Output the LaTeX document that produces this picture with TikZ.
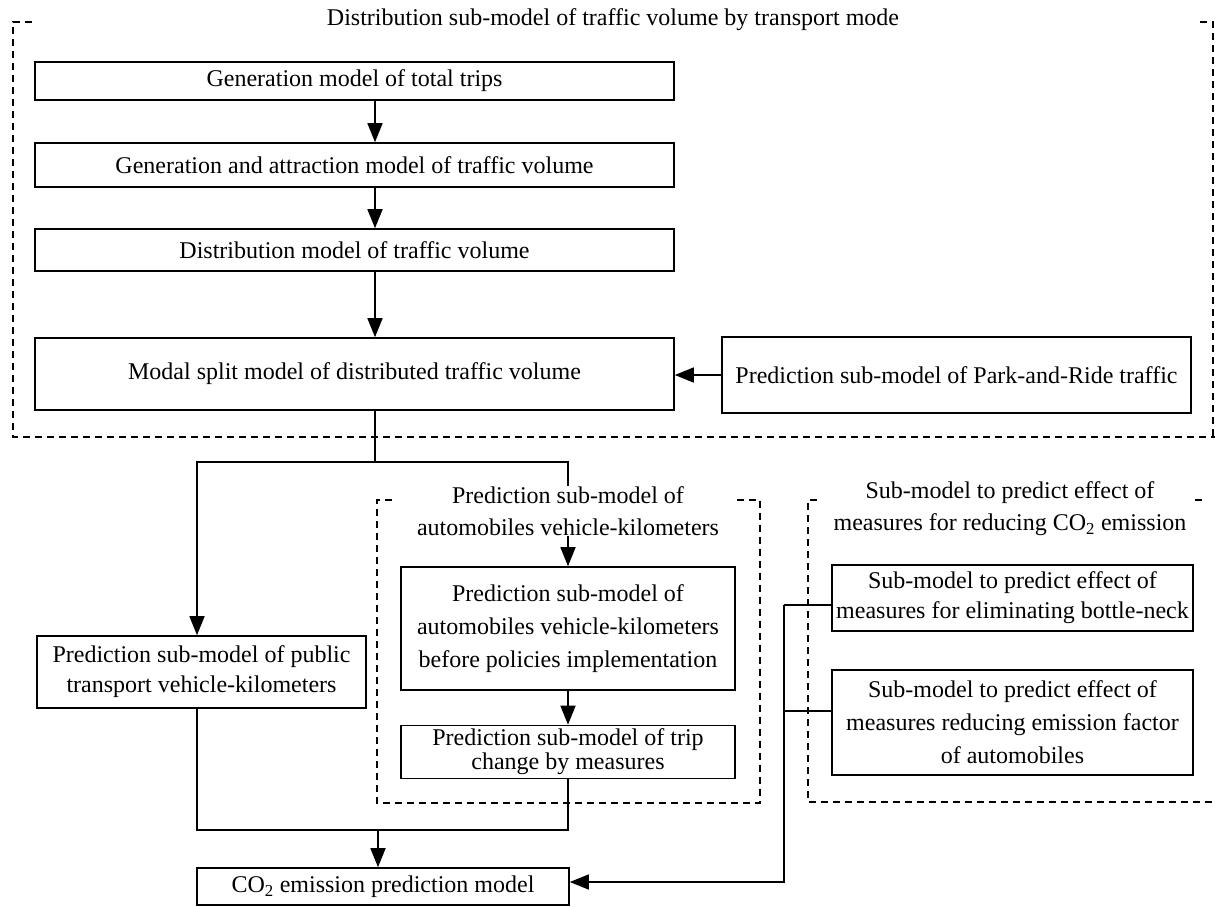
\documentclass[tikz,border=0pt]{standalone}
\usepackage{fontspec}
\setmainfont{Liberation Serif}
\usetikzlibrary{arrows.meta}
\begin{document}
\begin{tikzpicture}[x=1pt,y=-1pt,
  box/.style={draw, line width=1.6pt, inner sep=0pt, align=center, font=\fontsize{24}{32}\selectfont},
  ttl/.style={inner sep=0pt, align=center, font=\fontsize{24}{32}\selectfont},
  ln/.style={line width=1.6pt},
  arr/.style={line width=1.6pt, -{Triangle[length=19pt,width=15pt]}},
  dsh/.style={line width=1.5pt, dash pattern=on 7pt off 5pt}]
\useasboundingbox (0,0) rectangle (1215,906);

% outer dashed frame
\draw[dsh] (32,22) -- (13,22) -- (13,437) -- (1215,437);
\draw[dsh] (1200,22) -- (1213,22) -- (1213,437);
\node[ttl] (t0) at (613,20) {Distribution sub-model of traffic volume by transport mode};

% main chain
\node[box, minimum width=639pt, minimum height=38pt] (b1) at (354.5,81) {Generation model of total trips};
\node[box, minimum width=639pt, minimum height=44pt] (b2) at (354.5,165) {Generation and attraction model of traffic volume};
\node[box, minimum width=639pt, minimum height=42pt] (b3) at (354.5,250) {Distribution model of traffic volume};
\node[box, minimum width=639pt, minimum height=72pt] (b4) at (354.5,374) {Modal split model of distributed traffic volume};
\node[box, minimum width=469pt, minimum height=76pt] (pr) at (956.5,375) {Prediction sub-model of Park-and-Ride traffic};

\coordinate (sp) at (375,0);
\draw[arr] (b1.south -| sp) -- (b2.north -| sp);
\draw[arr] (b2.south -| sp) -- (b3.north -| sp);
\draw[arr] (b3.south -| sp) -- (b4.north -| sp);
\draw[arr] (pr.west) -- (pr.west -| b4.east);

% split
\coordinate (j1) at (375,462);
\coordinate (jl) at (197,462);
\coordinate (jr) at (568,462);

% left box
\node[box, minimum width=329pt, minimum height=72pt, font=\fontsize{24}{30}\selectfont] (pt) at (201.5,672) {Prediction sub-model of public\\transport vehicle-kilometers};

% middle dashed group
\draw[dsh] (392,500) -- (377,500) -- (377,803) -- (760,803) -- (760,500) -- (735,500);
\node[ttl] (at) at (568,511) {Prediction sub-model of\\automobiles vehicle-kilometers};
\node[box, minimum width=334pt, minimum height=123pt, font=\fontsize{24}{33}\selectfont] (a1) at (568,628.5) {Prediction sub-model of\\automobiles vehicle-kilometers\\before policies implementation};
\node[box, minimum width=334pt, minimum height=53pt, font=\fontsize{24}{24}\selectfont] (a2) at (568,752) {Prediction sub-model of trip\\change by measures};

\draw[ln] (b4.south -| sp) -- (j1);
\draw[arr] (j1) -- (jl) -- (jl |- pt.north);
\draw[ln] (j1) -- (jr) -- (jr |- at.north);
\draw[arr] (at.south -| jr) -- (jr |- a1.north);
\draw[arr] (a1.south -| jr) -- (jr |- a2.north);

% CO2 model
\node[box, minimum width=372pt, minimum height=37pt] (co) at (383,886.5) {CO\textsubscript{2} emission prediction model};
\coordinate (jb) at (378,830);
\draw[ln] (pt.south -| jl) -- (jl |- jb) -- (jr |- jb) -- (a2.south -| jr);
\draw[arr] (jb) -- (jb |- co.north);

% right dashed group
\draw[dsh] (817,500) -- (808,500) -- (808,802) -- (1215,802);
\draw[dsh] (1195,500) -- (1203,500);
\node[ttl] (ct) at (1010,509) {Sub-model to predict effect of\\measures for reducing CO\textsubscript{2} emission};
\node[box, minimum width=361pt, minimum height=66pt, font=\fontsize{24}{30}\selectfont] (E) at (1012.5,598) {Sub-model to predict effect of\\measures for eliminating bottle-neck};
\node[box, minimum width=361pt, minimum height=105pt, font=\fontsize{24}{33}\selectfont] (F) at (1012.5,722.5) {Sub-model to predict effect of\\measures reducing emission factor\\of automobiles};

\coordinate (e1) at (784,605);
\coordinate (f1) at (784,711);
\coordinate (rb) at (784,882);
\draw[ln] (e1) -- (e1 -| E.west);
\draw[ln] (f1) -- (f1 -| F.west);
\draw[arr] (e1) -- (rb) -- (rb -| co.east);
\end{tikzpicture}
\end{document}
